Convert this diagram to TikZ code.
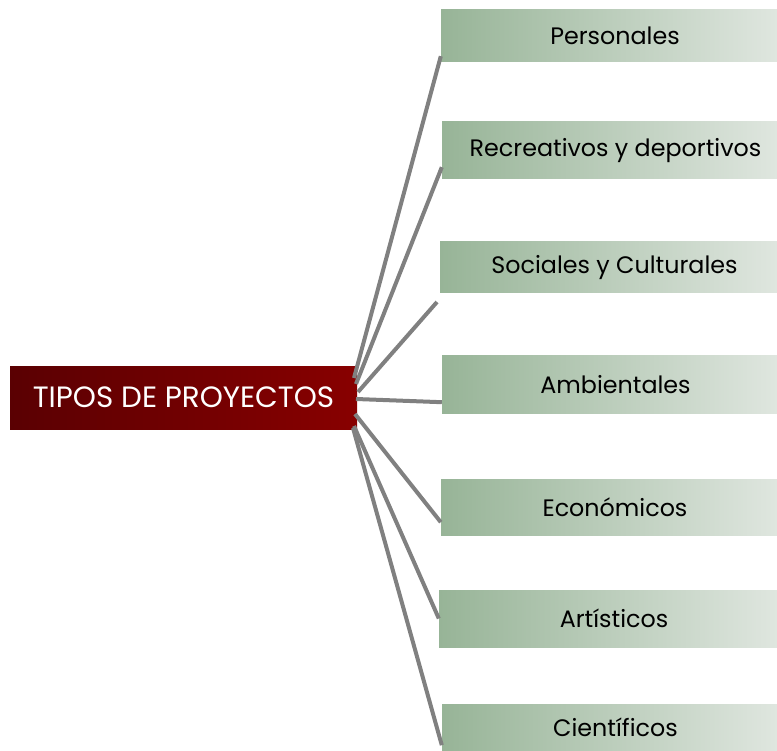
\documentclass[tikz,border=0pt]{standalone}
\usepackage{fontspec}
\setmainfont{Poppins}
\definecolor{redL}{HTML}{5A0002}
\definecolor{redR}{HTML}{880000}
\definecolor{grnL}{HTML}{97B497}
\definecolor{grnR}{HTML}{DFE6DF}
\definecolor{linkgray}{HTML}{808080}
\tikzset{
  centerbox/.style={rectangle, inner sep=0pt, minimum width=347pt, minimum height=63pt,
    left color=redL, right color=redR, text=white, font=\fontsize{29.4}{32}\selectfont},
  leaf/.style={rectangle, inner sep=0pt, left color=grnL, right color=grnR,
    text=black, font=\fontsize{23.8}{28}\selectfont},
  link/.style={draw=linkgray, line width=4pt}
}
\begin{document}
\begin{tikzpicture}[x=1pt,y=-1pt]
\useasboundingbox (0,0) rectangle (777,751);
\clip (0,0) rectangle (777,751);
\node[centerbox] (c) at (183.5,398.5) {\raisebox{3pt}{TIPOS DE PROYECTOS}};
\node[leaf, minimum width=336pt, minimum height=52pt] (p1) at (609,36) {\hspace*{12pt}Personales};
\node[leaf, minimum width=335pt, minimum height=57pt] (p2) at (609.5,150.5) {\hspace*{12pt}Recreativos y deportivos};
\node[leaf, minimum width=337pt, minimum height=51pt] (p3) at (608.5,267.5) {\hspace*{12pt}Sociales y Culturales};
\node[leaf, minimum width=335pt, minimum height=58pt] (p4) at (609.5,385) {\hspace*{12pt}Ambientales};
\node[leaf, minimum width=336pt, minimum height=56pt] (p5) at (609,507) {\hspace*{12pt}Económicos};
\node[leaf, minimum width=338pt, minimum height=57pt] (p6) at (608,618.5) {\hspace*{12pt}Artísticos};
\node[leaf, minimum width=335pt, minimum height=47pt] (p7) at (609.5,727.5) {\hspace*{12pt}Científicos};
\coordinate (s1) at (354,378);
\coordinate (s2) at (356,384);
\coordinate (s3) at (358,392);
\coordinate (s4) at (356,399);
\coordinate (s5) at (355,414);
\coordinate (s6) at (354,426);
\coordinate (s7) at (353,428);
\coordinate (e3) at (437,302);
\draw[link] (s1) -- ([yshift=6pt]p1.south west);
\draw[link] (s2) -- ([yshift=12pt]p2.south west);
\draw[link] (s3) -- (e3);
\draw[link] (s4) -- ([yshift=12pt]p4.south west);
\draw[link] (s5) -- ([yshift=13pt]p5.south west);
\draw[link] (s6) -- (p6.west);
\draw[link] (s7) -- ([yshift=6pt]p7.south west);
\end{tikzpicture}
\end{document}
